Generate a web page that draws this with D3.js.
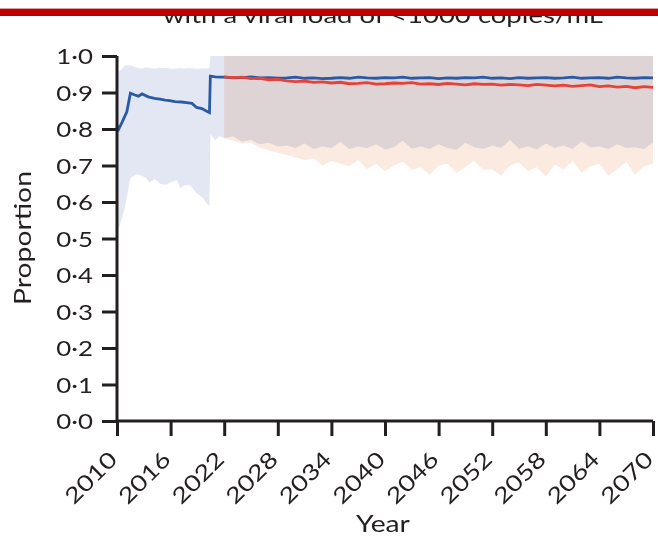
<!DOCTYPE html>
<html>
  <head>
    <script src="https://d3js.org/d3.v7.min.js"></script>
    <style>
      body { margin: 0; background: white; }
      text { font-family: Lato, "Open Sans", sans-serif; fill: #231f20; }
    </style>
  </head>
  <body>
    <script>
      // early period (blue only), irregular time points
      const earlyYears = [2010, 2010.2, 2010.6, 2011.1, 2011.5, 2012, 2012.4, 2012.8, 2013.5, 2014.2, 2014.8, 2015.4, 2015.9, 2016.5, 2017.2, 2017.8, 2018.4, 2018.9, 2019.5, 2020.1, 2020.35, 2020.45, 2021, 2021.5];
      const earlyBlue = [0.81, 0.80, 0.82, 0.847, 0.898, 0.893, 0.890, 0.896, 0.888, 0.884, 0.882, 0.879, 0.878, 0.875, 0.874, 0.872, 0.870, 0.859, 0.856, 0.848, 0.845, 0.945, 0.943, 0.942];

      const earlyBandYears = [2010, 2010.15, 2010.9, 2011.5, 2012.2, 2012.8, 2013.3, 2013.6, 2014.2, 2014.8, 2015.5, 2016.1, 2016.7, 2017.1, 2017.5, 2018.1, 2018.9, 2019.6, 2020.0, 2020.35, 2020.45, 2021, 2021.5];
      const earlyBandLow = [0.50, 0.523, 0.587, 0.666, 0.676, 0.672, 0.665, 0.653, 0.663, 0.650, 0.647, 0.655, 0.660, 0.638, 0.645, 0.647, 0.625, 0.611, 0.597, 0.590, 0.785, 0.770, 0.780];
      const earlyBandHigh = [0.953, 0.955, 0.975, 0.975, 0.968, 0.966, 0.969, 0.967, 0.966, 0.968, 0.967, 0.965, 0.966, 0.968, 0.966, 0.967, 0.965, 0.966, 0.966, 0.967, 1.0, 1.0, 1.0];

      // projection period, yearly 2022-2070
      const lateYears = d3.range(2022, 2071);
      const lateBlue = [
        0.942, 0.940, 0.941, 0.943, 0.940, 0.941, 0.939, 0.940, 0.942, 0.939,
        0.940, 0.938, 0.939, 0.941, 0.939, 0.942, 0.940, 0.939, 0.941, 0.940,
        0.942, 0.939, 0.940, 0.941, 0.938, 0.940, 0.939, 0.941, 0.940, 0.942,
        0.939, 0.940, 0.938, 0.941, 0.939, 0.940, 0.941, 0.939, 0.940, 0.942,
        0.939, 0.940, 0.941, 0.939, 0.942, 0.940, 0.939, 0.941, 0.940];
      const lateRed = [
        0.943, 0.941, 0.942, 0.938, 0.939, 0.935, 0.936, 0.932, 0.930, 0.931,
        0.928, 0.929, 0.926, 0.928, 0.924, 0.925, 0.927, 0.923, 0.924, 0.926,
        0.925, 0.927, 0.923, 0.924, 0.922, 0.925, 0.923, 0.921, 0.924, 0.922,
        0.923, 0.920, 0.922, 0.921, 0.919, 0.922, 0.920, 0.918, 0.920, 0.917,
        0.919, 0.921, 0.916, 0.918, 0.915, 0.917, 0.913, 0.916, 0.914];
      const lateBlueLow = [
        0.775, 0.780, 0.765, 0.770, 0.758, 0.762, 0.752, 0.755, 0.748, 0.760,
        0.745, 0.752, 0.748, 0.765, 0.745, 0.752, 0.748, 0.758, 0.744, 0.750,
        0.768, 0.746, 0.752, 0.745, 0.758, 0.748, 0.743, 0.762, 0.750, 0.745,
        0.755, 0.748, 0.770, 0.746, 0.752, 0.744, 0.760, 0.748, 0.755, 0.745,
        0.766, 0.749, 0.752, 0.745, 0.758, 0.748, 0.750, 0.745, 0.762];
      const lateRedLow = [
        0.775, 0.768, 0.760, 0.762, 0.748, 0.742, 0.735, 0.728, 0.722, 0.715,
        0.720, 0.700, 0.712, 0.705, 0.698, 0.715, 0.690, 0.705, 0.685, 0.700,
        0.710, 0.688, 0.695, 0.675, 0.700, 0.705, 0.680, 0.695, 0.712, 0.688,
        0.690, 0.672, 0.700, 0.708, 0.685, 0.695, 0.670, 0.702, 0.690, 0.712,
        0.680, 0.698, 0.705, 0.672, 0.690, 0.710, 0.675, 0.698, 0.705];
      const lateHigh = 1.0;

      const xTicks = [2010, 2016, 2022, 2028, 2034, 2040, 2046, 2052, 2058, 2064, 2070];
      const yTicks = [0, 0.1, 0.2, 0.3, 0.4, 0.5, 0.6, 0.7, 0.8, 0.9, 1.0];
      const title = 'with a viral load of <1000 copies/mL';

      const w = 658, h = 539;
      const wide = 1.23; // the journal font is wider than Lato
      const svg = d3.select('body').append('svg').attr('width', w).attr('height', h);

      const x = d3.scaleLinear().domain([2010, 2070]).range([117, 653]);
      const y = d3.scaleLinear().domain([0, 1]).range([421, 56]);

      // bands
      const blueBand = earlyBandYears.map((d, i) => ({yr: d, lo: earlyBandLow[i], hi: earlyBandHigh[i]}))
        .concat(lateYears.map((d, i) => ({yr: d, lo: lateBlueLow[i], hi: lateHigh})));
      const redBand = lateYears.map((d, i) => ({yr: d, lo: lateRedLow[i], hi: lateHigh}));

      const area = d3.area().x(d => x(d.yr)).y0(d => y(d.lo)).y1(d => y(d.hi));

      svg.append('path').attr('d', area(blueBand)).attr('fill', '#e3e7f3');
      svg.append('path').attr('d', area(redBand)).attr('fill', '#fbeae0')
         .style('mix-blend-mode', 'multiply');

      const line = d3.line().x(d => x(d[0])).y(d => y(d[1]));
      const blueLine = earlyYears.map((d, i) => [d, earlyBlue[i]])
        .concat(lateYears.map((d, i) => [d, lateBlue[i]]));
      const redLine = lateYears.map((d, i) => [d, lateRed[i]]);

      svg.append('path').attr('d', line(blueLine)).attr('fill', 'none')
         .attr('stroke', '#2a5aa5').attr('stroke-width', 2.8);
      svg.append('path').attr('d', line(redLine)).attr('fill', 'none')
         .attr('stroke', '#e5433a').attr('stroke-width', 2.8);

      // axes
      const fmt = d => d3.format('.1f')(d).replace('.', '\u00b7');
      const yAxis = svg.append('g').attr('transform', 'translate(117,0)')
        .call(d3.axisLeft(y).tickValues(yTicks).tickFormat(fmt).tickSize(15));
      const xAxis = svg.append('g').attr('transform', 'translate(0,421)')
        .call(d3.axisBottom(x).tickValues(xTicks).tickFormat(d3.format('d')).tickSize(15));

      [yAxis, xAxis].forEach(g => {
        g.select('.domain').attr('stroke', '#231f20').attr('stroke-width', 3);
        g.selectAll('.tick line').attr('stroke', '#231f20').attr('stroke-width', 3);
        g.selectAll('text').attr('font-size', 21).attr('fill', '#231f20')
         .style('font-family', 'Lato, sans-serif');
      });
      xAxis.select('.domain').attr('d', `M${x(2010)},0H${x(2070)}`);
      yAxis.select('.domain').attr('d', `M0,${y(1)}V${y(0)}`);

      yAxis.selectAll('.tick text')
        .attr('x', 0).attr('dy', '0.36em')
        .attr('transform', `translate(-24,0) scale(${wide},1)`);

      xAxis.selectAll('.tick text')
        .attr('font-size', 22)
        .attr('text-anchor', 'end')
        .attr('x', 0).attr('y', 0).attr('dy', 0)
        .attr('transform', `translate(1,40) rotate(-45) scale(${wide},1)`);

      svg.append('text').attr('transform', `translate(383,532) scale(${wide},1)`)
         .attr('text-anchor', 'middle').attr('font-size', 23).text('Year');
      svg.append('text').attr('transform', `translate(31,238) rotate(-90) scale(${wide},1)`)
         .attr('text-anchor', 'middle').attr('font-size', 23).text('Proportion');

      // clipped title strip
      svg.append('text').attr('x', 163).attr('y', 23).attr('font-size', 22)
         .attr('textLength', 440).attr('lengthAdjust', 'spacingAndGlyphs').text(title);
      svg.append('rect').attr('x', 0).attr('y', 0).attr('width', w).attr('height', 8).attr('fill', 'white');
      svg.append('rect').attr('x', 0).attr('y', 8).attr('width', w).attr('height', 1.5).attr('fill', '#e59a9a');
      svg.append('rect').attr('x', 0).attr('y', 9).attr('width', w).attr('height', 7).attr('fill', '#c00000');
    </script>
  </body>
</html>
